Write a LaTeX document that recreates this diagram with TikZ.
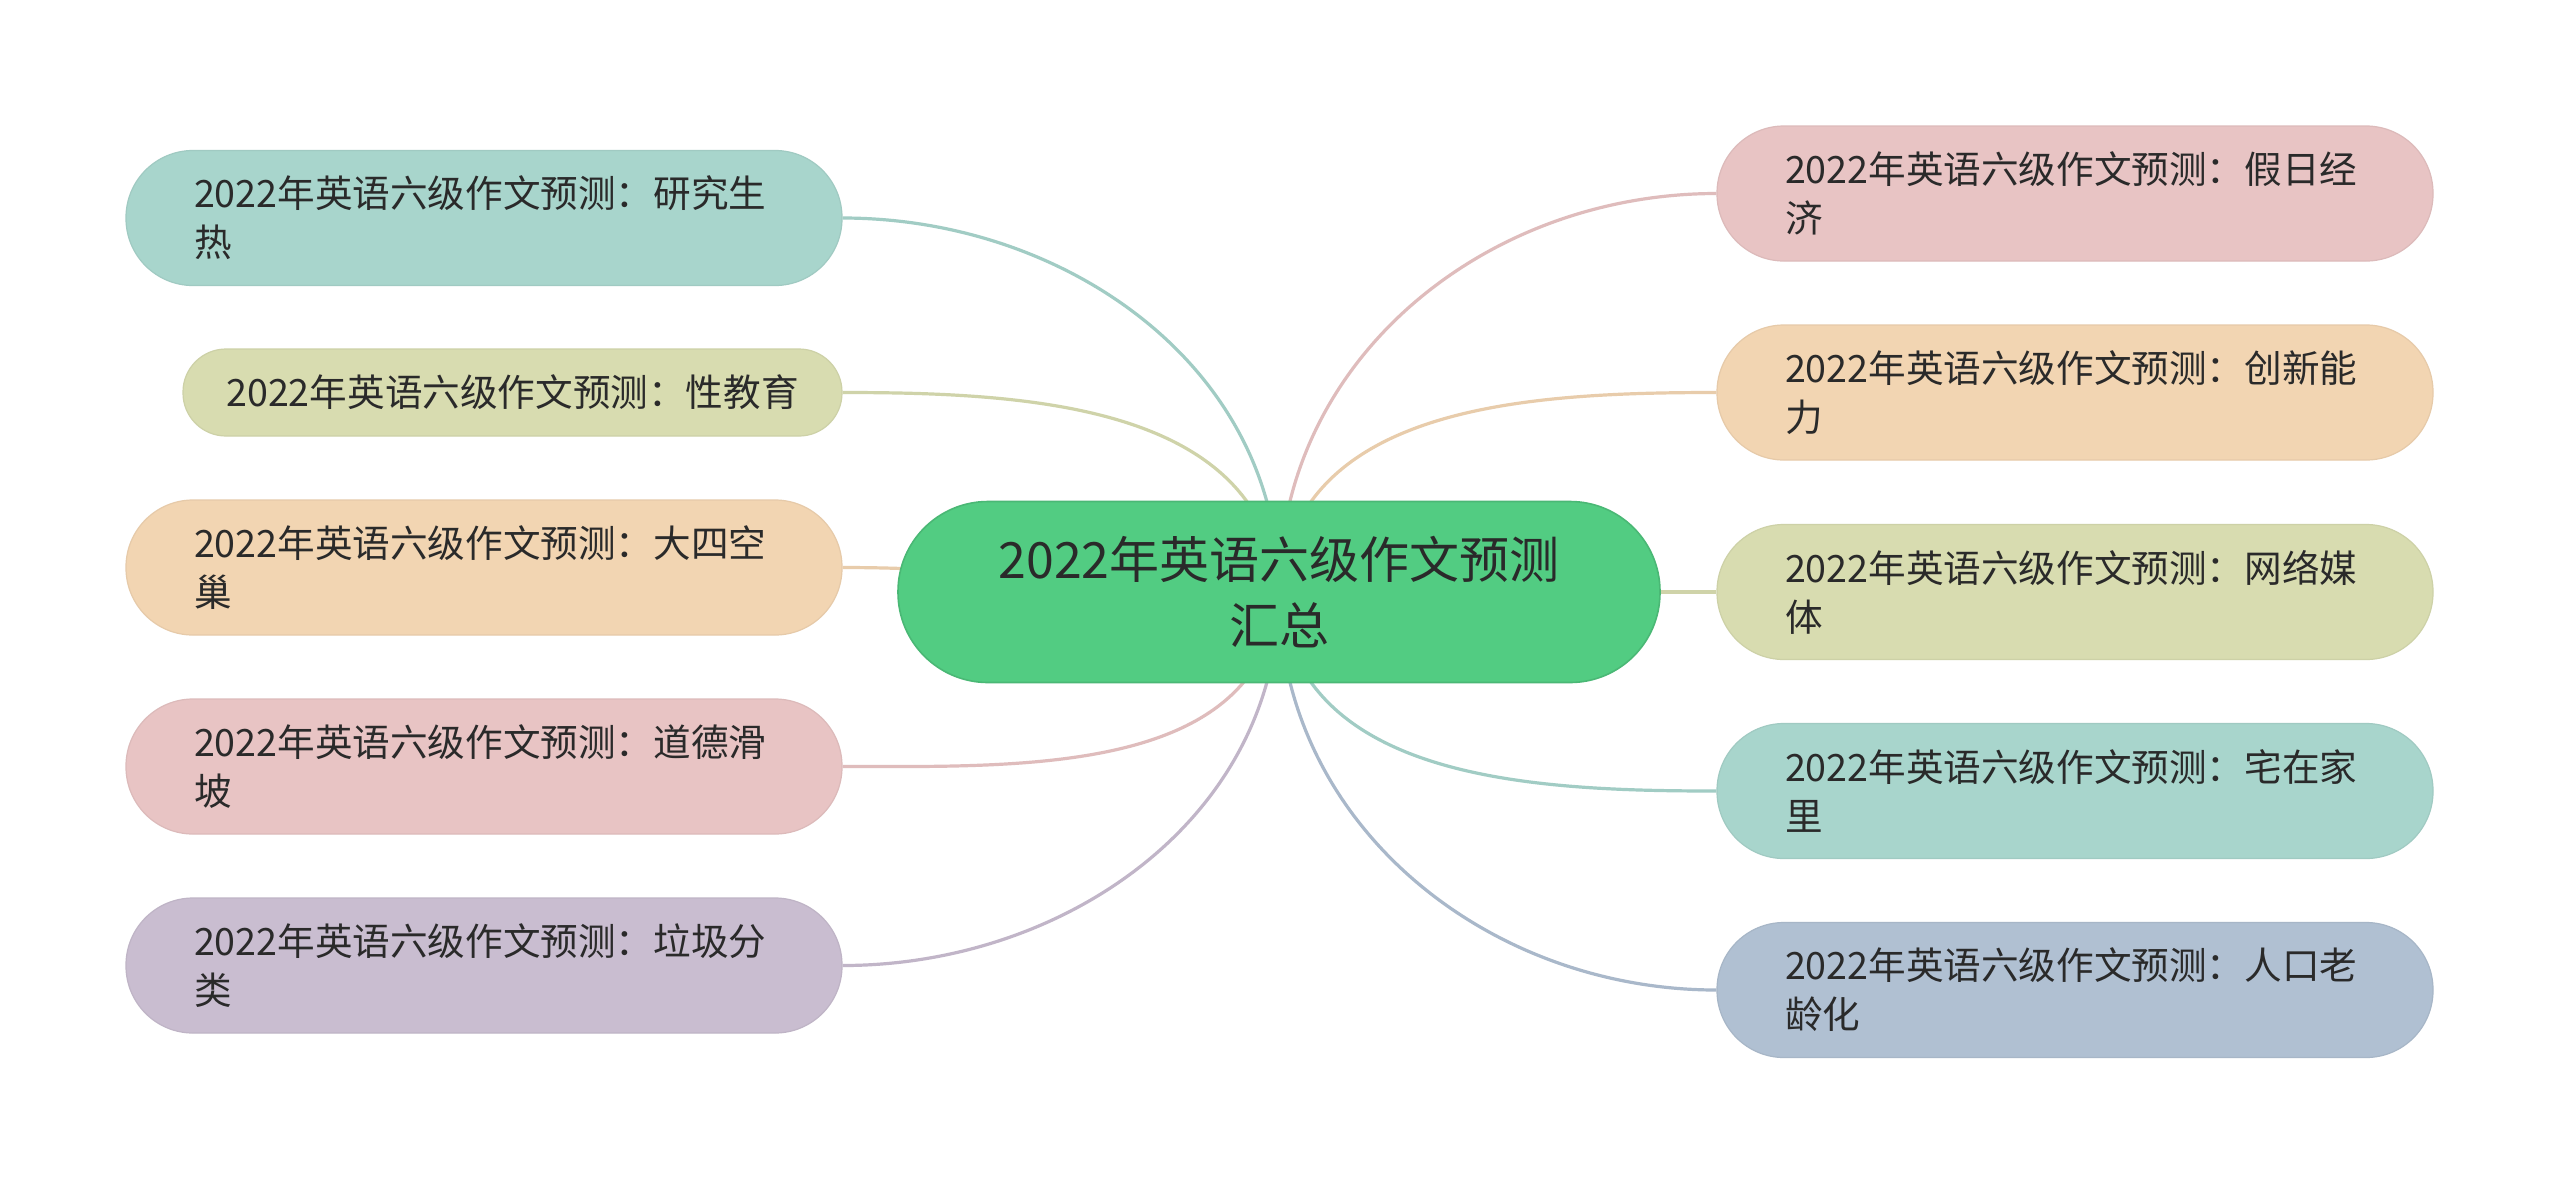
\documentclass[tikz,border=0pt]{standalone}
\usepackage{fontspec}
\newfontfamily\cjk{Noto Sans CJK SC}
\usetikzlibrary{backgrounds}
\definecolor{cteal}{HTML}{A8D5CC}
\definecolor{colive}{HTML}{D8DCB0}
\definecolor{cpeach}{HTML}{F2D5B2}
\definecolor{cpink}{HTML}{E8C4C4}
\definecolor{clav}{HTML}{C9BDD0}
\definecolor{cblue}{HTML}{B0C0D2}
\definecolor{cgreen}{HTML}{52CC82}
\definecolor{textc}{HTML}{2A2A2A}
\begin{document}
\begin{tikzpicture}[x=0.5pt,y=-0.5pt,
  leafbase/.style={rectangle, text=textc, line width=0.6pt},
  leaf/.style={leafbase, fill=#1, draw=#1!95!black, rounded corners=33.5pt,
    minimum height=67.5pt, text width=290pt, inner xsep=34pt, inner ysep=4pt,
    align=left, font=\cjk\fontsize{18.8}{24.5}\selectfont},
  leafone/.style={leafbase, fill=#1, draw=#1!95!black, rounded corners=21.5pt,
    minimum height=43.5pt, minimum width=329.5pt, inner xsep=20pt, inner ysep=3pt,
    align=center, font=\cjk\fontsize{18.8}{24.5}\selectfont},
  rootbox/.style={rectangle, fill=cgreen, draw=cgreen!90!black, line width=0.8pt,
    rounded corners=45pt, minimum width=381pt, minimum height=90.5pt,
    align=center, text=textc, font=\cjk\fontsize{25}{33}\selectfont},
  link/.style={draw=#1!96!black, line width=1.6pt}
]
\useasboundingbox (0,0) rectangle (2560,1185);

\node[rootbox] (c) at (1279,592) {2022年英语六级作文预测\\汇总};

\node[leaf=cteal]  (l1) at (484,218)   {2022年英语六级作文预测：研究生\\热};
\node[leafone=colive] (l2) at (512.5,392.5) {2022年英语六级作文预测：性教育};
\node[leaf=cpeach] (l3) at (484,567.5) {2022年英语六级作文预测：大四空\\巢};
\node[leaf=cpink]  (l4) at (484,766.5) {2022年英语六级作文预测：道德滑\\坡};
\node[leaf=clav]   (l5) at (484,965.5) {2022年英语六级作文预测：垃圾分\\类};

\node[leaf=cpink]  (r1) at (2075,193.5) {2022年英语六级作文预测：假日经\\济};
\node[leaf=cpeach] (r2) at (2075,392.5) {2022年英语六级作文预测：创新能\\力};
\node[leaf=colive] (r3) at (2075,592)   {2022年英语六级作文预测：网络媒\\体};
\node[leaf=cteal]  (r4) at (2075,791)   {2022年英语六级作文预测：宅在家\\里};
\node[leaf=cblue]  (r5) at (2075,990)   {2022年英语六级作文预测：人口老\\龄化};

\begin{pgfonlayer}{background}
\fill[white] (0,0) rectangle (2560,1185);
\draw[link=cteal]  (c.center) to[out=90,in=0] (l1.east);
\draw[link=colive] (c.center) to[out=95,in=0] (l2.east);
\draw[link=cpeach] (c.center) to[out=180,in=0] (l3.east);
\draw[link=cpink]  (c.center) to[out=-95,in=0] (l4.east);
\draw[link=clav]   (c.center) to[out=-90,in=0] (l5.east);
\draw[link=cpink]  (c.center) to[out=90,in=180] (r1.west);
\draw[link=cpeach] (c.center) to[out=85,in=180] (r2.west);
\draw[link=colive] (c.center) to[out=0,in=180] (r3.west);
\draw[link=cteal]  (c.center) to[out=-85,in=180] (r4.west);
\draw[link=cblue]  (c.center) to[out=-90,in=180] (r5.west);
\end{pgfonlayer}
\end{tikzpicture}
\end{document}
